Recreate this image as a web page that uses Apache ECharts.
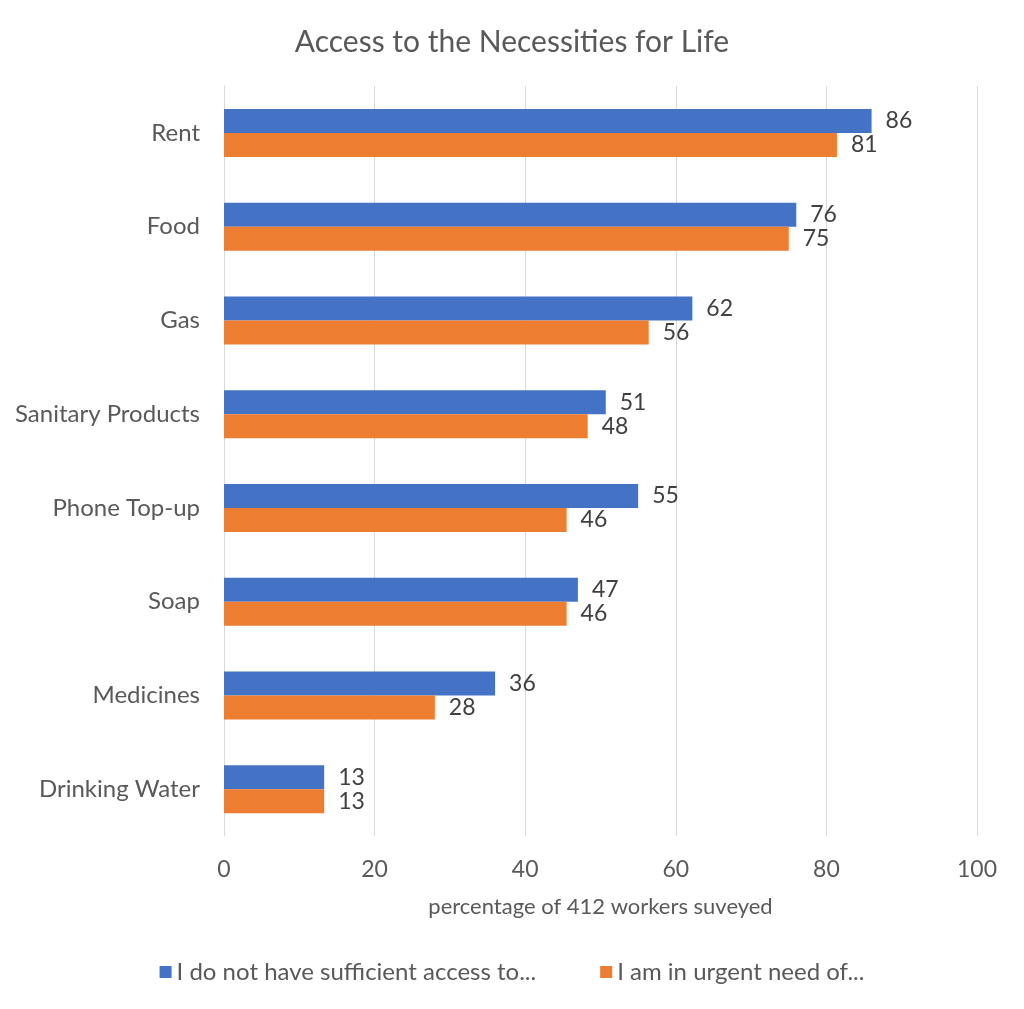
<!DOCTYPE html>
<html>
<head>
<meta charset="utf-8">
<script src="https://cdn.jsdelivr.net/npm/echarts@6/dist/echarts.min.js"></script>
<style>
  html, body { margin: 0; padding: 0; background: #fff; }
  #chart { width: 1024px; height: 1009px; }
</style>
</head>
<body>
<div id="chart"></div>
<script>
var categories = ['Rent', 'Food', 'Gas', 'Sanitary Products', 'Phone Top-up', 'Soap', 'Medicines', 'Drinking Water'];
var noAccess = [86, 76, 62.2, 50.7, 55, 47, 36, 13.3];
var urgentNeed = [81.4, 75, 56.4, 48.3, 45.5, 45.5, 28, 13.3];
var seriesNames = ['I do not have sufficient access to...', 'I am in urgent need of...'];

var font = 'Lato';
var chart = echarts.init(document.getElementById('chart'));

var labelStyle = {
    show: true,
    position: 'right',
    distance: 14,
    color: '#404040',
    fontSize: 23,
    fontFamily: font,
    formatter: function (p) { return Math.round(p.value); }
};

var option = {
    backgroundColor: '#fff',
    animation: false,
    title: {
        text: 'Access to the Necessities for Life',
        left: 'center',
        top: 22,
        textStyle: { color: '#595959', fontSize: 30, fontWeight: 'normal', fontFamily: font }
    },
    legend: {
        bottom: 20,
        left: 'center',
        itemWidth: 12,
        itemHeight: 12,
        itemGap: 64,
        icon: 'rect',
        textStyle: { color: '#595959', fontSize: 24, fontFamily: font },
        data: seriesNames
    },
    grid: { left: 224, right: 47, top: 86, bottom: 173 },
    xAxis: {
        type: 'value',
        min: 0,
        max: 100,
        interval: 20,
        name: 'percentage of 412 workers suveyed',
        nameLocation: 'middle',
        nameGap: 60,
        nameTextStyle: { color: '#595959', fontSize: 22, fontFamily: font },
        axisLine: { show: false },
        axisTick: { show: false },
        axisLabel: { color: '#595959', fontSize: 23, fontFamily: font, margin: 22 },
        splitLine: { lineStyle: { color: '#d9d9d9', width: 1 } }
    },
    yAxis: {
        type: 'category',
        inverse: true,
        data: categories,
        axisLine: { show: true, lineStyle: { color: '#d9d9d9' } },
        axisTick: { show: false },
        axisLabel: { color: '#595959', fontSize: 24, fontFamily: font, margin: 24 }
    },
    series: [
        {
            name: seriesNames[0],
            type: 'bar',
            data: noAccess,
            barWidth: 24,
            barGap: '0%',
            itemStyle: { color: '#4472c4' },
            label: labelStyle
        },
        {
            name: seriesNames[1],
            type: 'bar',
            data: urgentNeed,
            barWidth: 24,
            itemStyle: { color: '#ed7d31' },
            label: labelStyle
        }
    ]
};

chart.setOption(option);
</script>
</body>
</html>
